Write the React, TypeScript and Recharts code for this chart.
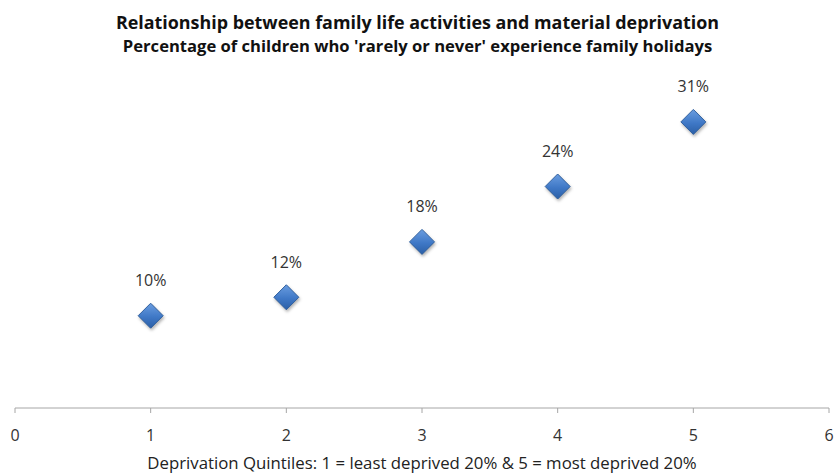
import { ScatterChart, Scatter, XAxis, YAxis, LabelList } from 'recharts'

const quintiles = [1, 2, 3, 4, 5]
const holidayShare = [0.10, 0.12, 0.18, 0.24, 0.31]
const xTicks = [0, 1, 2, 3, 4, 5, 6]

const data = quintiles.map((q, i) => ({ quintile: q, share: holidayShare[i] }))

const font = '"Open Sans", sans-serif'

const Diamond = (props: any) => {
  const { cx, cy } = props
  const r = 12.5
  return (
    <polygon
      points={`${cx},${cy - r} ${cx + r},${cy} ${cx},${cy + r} ${cx - r},${cy}`}
      fill="url(#diamondFill)"
      stroke="#2f5f9e"
      strokeWidth={1}
      style={{ filter: 'drop-shadow(1px 2px 1.5px rgba(0,0,0,0.3))' }}
    />
  )
}

export default function App() {
  return (
    <div style={{ position: 'absolute', left: 0, top: 0, width: 835, height: 475, background: '#fff', fontFamily: font }}>
      <div style={{ position: 'absolute', top: 9, left: 0, width: 835, textAlign: 'center', fontWeight: 'bold', fontSize: 17.9, lineHeight: '26px', color: '#111' }}>
        Relationship between family life activities and material deprivation
      </div>
      <div style={{ position: 'absolute', top: 35, left: 0, width: 835, textAlign: 'center', fontWeight: 'bold', fontSize: 16.6, lineHeight: '22px', color: '#111' }}>
        Percentage of children who 'rarely or never' experience family holidays
      </div>
      <ScatterChart width={835} height={475} margin={{ top: 85, right: 6, left: 15, bottom: 0 }}>
        <defs>
          <linearGradient id="diamondFill" x1="0" y1="0" x2="0" y2="1">
            <stop offset="0%" stopColor="#6a9de0" />
            <stop offset="55%" stopColor="#3f78c6" />
            <stop offset="100%" stopColor="#2b5fa6" />
          </linearGradient>
        </defs>
        <XAxis
          type="number"
          dataKey="quintile"
          domain={[0, 6]}
          ticks={xTicks}
          interval={0}
          height={67}
          tickSize={5}
          tickMargin={17}
          axisLine={{ stroke: '#a6a6a6' }}
          tickLine={{ stroke: '#a6a6a6' }}
          tick={{ fontSize: 16, fill: '#333', fontFamily: font }}
          label={{
            value: 'Deprivation Quintiles: 1 = least deprived 20% & 5 = most deprived 20%',
            position: 'insideBottom',
            offset: 6,
            style: { fontSize: 16.8, fill: '#222', fontFamily: font },
          }}
        />
        <YAxis type="number" dataKey="share" domain={[0, 0.35]} hide />
        <Scatter data={data} shape={<Diamond />} isAnimationActive={false}>
          <LabelList
            dataKey="share"
            position="top"
            offset={25}
            formatter={(v: any) => `${Math.round(Number(v) * 100)}%`}
            style={{ fontSize: 16, fill: '#333', fontFamily: font }}
          />
        </Scatter>
      </ScatterChart>
    </div>
  )
}
